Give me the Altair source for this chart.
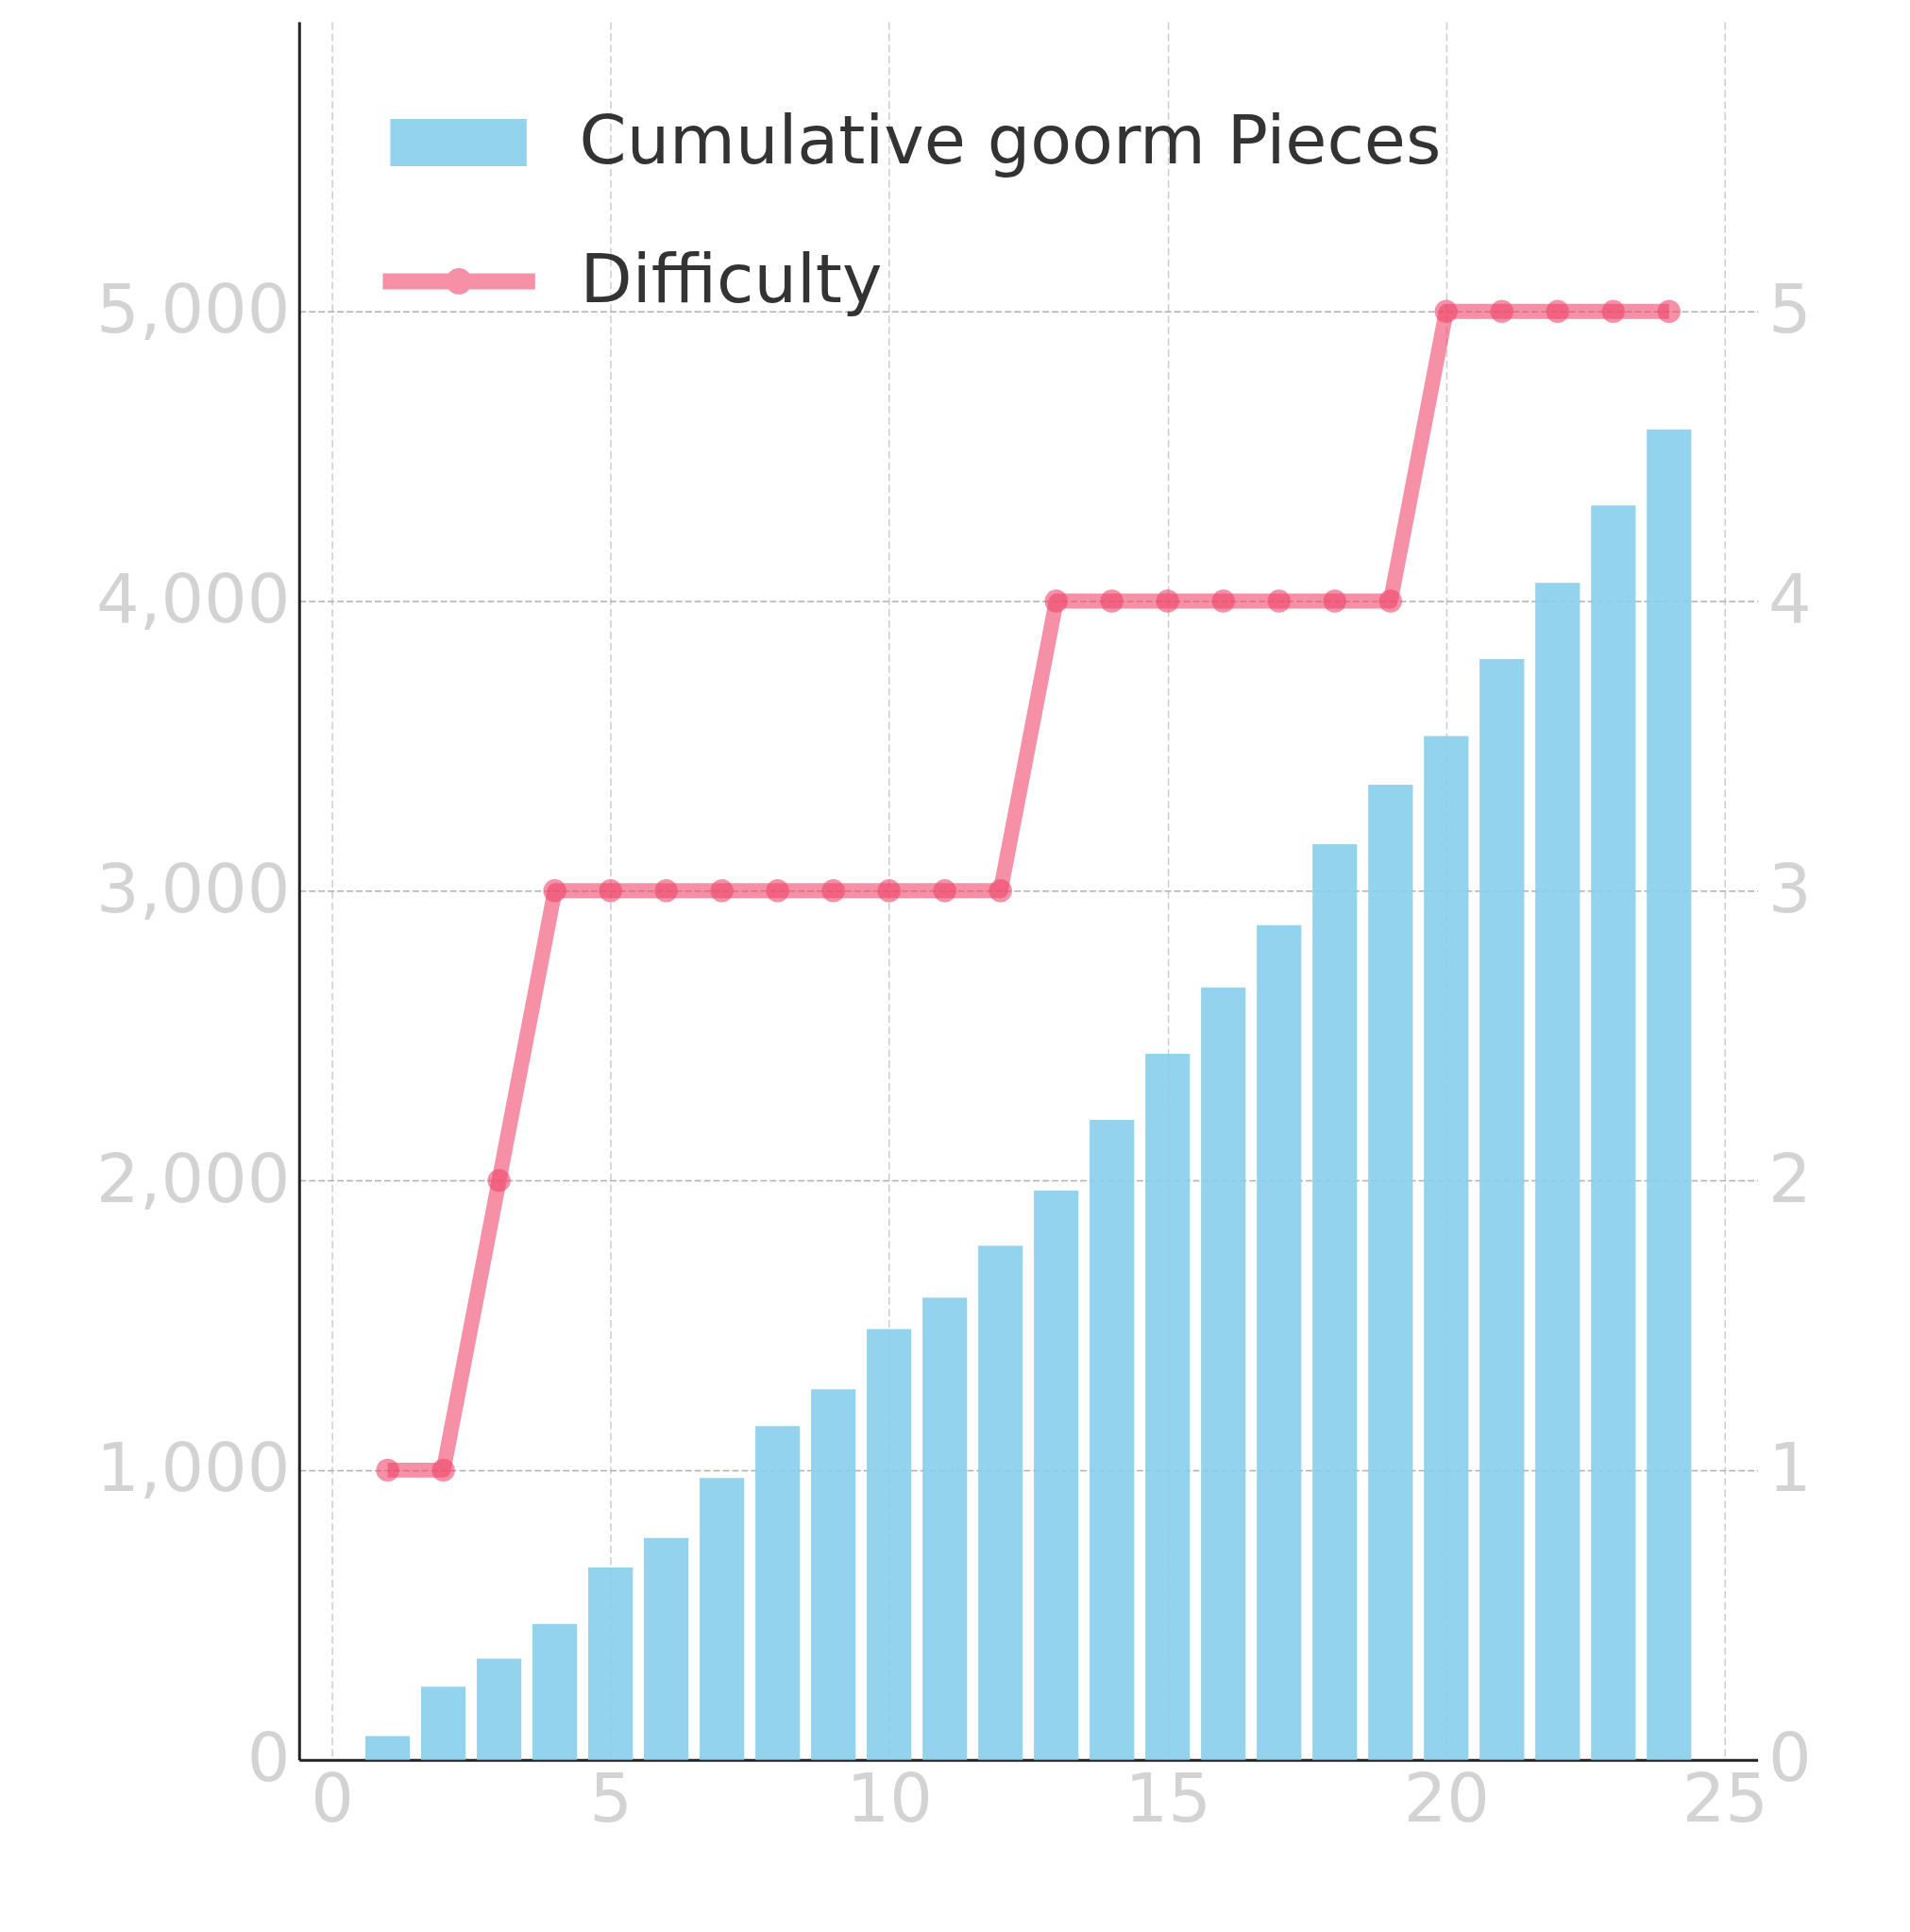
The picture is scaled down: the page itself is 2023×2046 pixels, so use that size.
import altair as alt
import pandas as pd

# ---- data ----
days = list(range(1, 25))
pieces = [82, 252, 349, 469, 664, 766, 973, 1152, 1279, 1487, 1595, 1775,
          1965, 2209, 2437, 2666, 2881, 3161, 3366, 3534, 3800, 4063, 4330, 4593]
difficulty = [1, 1, 2, 3, 3, 3, 3, 3, 3, 3, 3, 3,
              4, 4, 4, 4, 4, 4, 4, 5, 5, 5, 5, 5]
left_ticks = [0, 1000, 2000, 3000, 4000, 5000]
right_ticks = [0, 1, 2, 3, 4, 5]
x_ticks = [0, 5, 10, 15, 20, 25]
bar_label = "Cumulative goorm Pieces"
line_label = "Difficulty"

df = pd.DataFrame({"day": days, "pieces": pieces, "difficulty": difficulty})

FONT = "DejaVu Sans"
BLUE = "#87CEEB"
PINK = "#F0466B"
TICK_COLOR = "#d3d3d3"
FS = 72

xscale = alt.Scale(domain=[-0.59, 25.59], nice=False, zero=False)

x_axis = alt.Axis(values=x_ticks, title=None, labelFontSize=FS, labelColor=TICK_COLOR,
                  labelFont=FONT, ticks=False, domainColor="#222222", domainWidth=3,
                  grid=True, gridColor="#cccccc", gridDash=[8, 4], gridWidth=1.5,
                  labelPadding=8, labelFlush=False, labelOverlap=False,
                  labelExpr="format(datum.value, 'd')", labelLimit=500)

left_axis = alt.Axis(values=left_ticks, title=None, labelFontSize=FS,
                     labelExpr="format(datum.value, ',')",
                     labelColor=TICK_COLOR, labelFont=FONT, ticks=False,
                     domainColor="#222222", domainWidth=3, grid=True,
                     gridColor="#b0b0b0", gridDash=[7, 3], gridWidth=1.5,
                     gridOpacity={"condition": {"test": "datum.value === 0", "value": 0},
                                  "value": 1},
                     labelPadding=10, labelFlush=False, labelOverlap=False,
                     labelLimit=500)

right_axis = alt.Axis(values=right_ticks, title=None, orient="right",
                      labelExpr="format(datum.value, 'd')",
                      labelFontSize=FS, labelColor=TICK_COLOR, labelFont=FONT,
                      ticks=False, domain=False, grid=False, labelPadding=11,
                      labelFlush=False, labelOverlap=False, labelLimit=500)

bars = alt.Chart(df).transform_calculate(
    x0="datum.day - 0.4", x1="datum.day + 0.4", series=f"'{bar_label}'"
).mark_bar(opacity=0.9).encode(
    x=alt.X("x0:Q", scale=xscale, axis=x_axis),
    x2="x1:Q",
    y=alt.Y("pieces:Q", scale=alt.Scale(domain=[0, 6000], nice=False), axis=left_axis),
    y2=alt.datum(0),
    color=alt.Color("series:N", scale=alt.Scale(domain=[bar_label], range=[BLUE]),
                    legend=alt.Legend(title=None, orient="none", legendX=97, legendY=56,
                                      symbolType="M-1,-0.347H1V0.347H-1Z",
                                      symbolSize=21025, symbolStrokeWidth=0,
                                      symbolOpacity=0.9, labelFontSize=FS,
                                      labelFont=FONT, labelColor="#333333",
                                      labelOffset=56, padding=0, labelLimit=3000)),
)

line = alt.Chart(df).mark_line(color=PINK, strokeWidth=16, opacity=0.6,
                               strokeJoin="round").encode(
    x=alt.X("day:Q", scale=xscale),
    y=alt.Y("difficulty:Q", scale=alt.Scale(domain=[0, 6], nice=False), axis=right_axis),
)

points = alt.Chart(df).transform_calculate(series2=f"'{line_label}'").mark_circle(
    size=602, opacity=0.6
).encode(
    x=alt.X("day:Q", scale=xscale),
    y=alt.Y("difficulty:Q", scale=alt.Scale(domain=[0, 6], nice=False), axis=right_axis),
    fill=alt.Fill("series2:N", scale=alt.Scale(domain=[line_label], range=[PINK]),
                  legend=alt.Legend(title=None, orient="none", legendX=89, legendY=195,
                                    symbolType="M-1,-0.105H1V0.105H-1Z M-0.173,0A0.173,0.173 0 1,1 0.173,0A0.173,0.173 0 1,1 -0.173,0Z",
                                    symbolSize=26244, symbolStrokeWidth=0,
                                    symbolOpacity=0.6, labelFontSize=FS,
                                    labelFont=FONT, labelColor="#333333",
                                    labelOffset=48, padding=0, labelLimit=3000)),
)

right_layer = alt.layer(line, points)

chart = alt.layer(bars, right_layer).resolve_scale(y="independent").properties(
    width=1551, height=1848,
    autosize=alt.AutoSizeParams(type="none"),
    padding={"left": 310, "top": 11, "right": 154, "bottom": 179},
    background="white",
).configure_view(stroke=None)

chart.save("out.html", embed_options={"renderer": "svg", "actions": False})
